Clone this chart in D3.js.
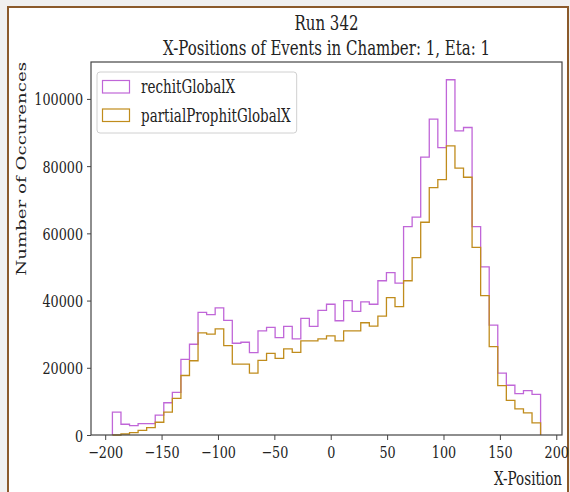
<!DOCTYPE html>
<html>
<head>
<meta charset="utf-8">
<script src="https://cdn.jsdelivr.net/npm/d3@7"></script>
<style>
  html, body { margin: 0; padding: 0; background: #f0f0f0; }
  svg { display: block; }
  text { font-family: "DejaVu Serif", serif; fill: #222; }
</style>
</head>
<body>
<svg id="chart" width="570" height="492"></svg>
<script>
// Histogram binning: 50 equal-width bins between the data extremes
const binLow = -193.6;
const binHigh = 186.1;
const binCount = 50;

// Counts per bin, left to right
const rechitGlobalX = [
  6800, 3200, 2800, 3400, 3400, 5900, 9600, 12700, 22500, 27000,
  36500, 35800, 37800, 34100, 27300, 27600, 24500, 31000, 32000, 29000,
  32300, 28600, 34700, 32300, 37100, 38900, 34000, 40000, 36800, 39600,
  38900, 45900, 48300, 45200, 62000, 64800, 82700, 94000, 85500, 105700,
  90500, 91500, 62000, 50000, 32700, 18400, 14800, 12300, 13200, 12100
];
const partialProphitGlobalX = [
  0, 300, 700, 1400, 2200, 3800, 6800, 10900, 17700, 22100,
  30400, 30000, 31600, 26600, 21100, 21100, 18400, 22200, 24300, 22800,
  25600, 24600, 28000, 28000, 28600, 29500, 28000, 31000, 31000, 33400,
  32400, 35400, 40900, 38200, 45900, 52800, 63300, 73600, 76000, 86000,
  79400, 76700, 55800, 41500, 26300, 14700, 10300, 7800, 6600, 3600
];

const seriesNames = ["rechitGlobalX", "partialProphitGlobalX"];
const seriesColors = ["#c066d8", "#c08c1c"];
const xTicks = [-200, -150, -100, -50, 0, 50, 100, 150, 200];
const yTicks = [0, 20000, 40000, 60000, 80000, 100000];
const titleLines = ["Run 342", "X-Positions of Events in Chamber: 1, Eta: 1"];
const xLabel = "X-Position";
const yLabel = "Number of Occurences";

// Horizontal compression applied to every text glyph
const SX = 0.75;

const svg = d3.select("#chart");
const m = { left: 91, right: 562, top: 62, bottom: 435 };

// Framed figure area
svg.append("rect")
  .attr("x", 8).attr("y", 7).attr("width", 560).attr("height", 520)
  .attr("fill", "#ffffff").attr("stroke", "#8b5a2b").attr("stroke-width", 2);

const edges = d3.range(binCount + 1).map(i => binLow + (binHigh - binLow) * i / binCount);
const span = binHigh - binLow;
const x = d3.scaleLinear()
  .domain([binLow - 0.05 * span, binHigh + 0.05 * span])
  .range([m.left, m.right]);
const yMax = d3.max([...rechitGlobalX, ...partialProphitGlobalX]) * 1.05;
const y = d3.scaleLinear().domain([0, yMax]).range([m.bottom, m.top]);

function stepPoints(counts) {
  const pts = [[edges[0], 0]];
  counts.forEach((c, i) => pts.push([edges[i], c]));
  pts.push([edges[binCount], 0]);
  return pts;
}
const line = d3.line().x(d => x(d[0])).y(d => y(d[1])).curve(d3.curveStepAfter);

const plot = svg.append("g");
[rechitGlobalX, partialProphitGlobalX].forEach((counts, k) => {
  plot.append("path")
    .attr("d", line(stepPoints(counts)))
    .attr("fill", "none")
    .attr("stroke", seriesColors[k])
    .attr("stroke-width", 1.3);
});

// Axes
const xAxis = svg.append("g").attr("transform", `translate(0,${m.bottom})`)
  .call(d3.axisBottom(x).tickValues(xTicks).tickSize(5).tickSizeOuter(0));
const yAxis = svg.append("g").attr("transform", `translate(${m.left},0)`)
  .call(d3.axisLeft(y).tickValues(yTicks).tickFormat(d3.format("d")).tickSize(4).tickSizeOuter(0));
[xAxis, yAxis].forEach(a => {
  a.select(".domain").remove();
  a.selectAll(".tick line").attr("stroke", "#444");
  a.selectAll(".tick text").attr("font-family", "DejaVu Serif").attr("font-size", 17).attr("fill", "#222");
});
xAxis.selectAll(".tick text").attr("y", 0).attr("dy", 0)
  .attr("transform", `translate(0,23) scale(${SX},1)`);
yAxis.selectAll(".tick text").attr("x", 0).attr("dy", 0)
  .attr("transform", `translate(-8,6) scale(${SX},1)`);

// Spines
svg.append("rect")
  .attr("x", m.left).attr("y", m.top)
  .attr("width", m.right - m.left).attr("height", m.bottom - m.top)
  .attr("fill", "none").attr("stroke", "#444").attr("stroke-width", 1.2);

function label(str, px, py, size, anchor, rotate) {
  return svg.append("text")
    .attr("transform", `translate(${px},${py}) scale(${SX},1)` + (rotate ? " rotate(-90)" : ""))
    .attr("text-anchor", anchor)
    .attr("font-size", size)
    .text(str);
}

// Title
label(titleLines[0], (m.left + m.right) / 2, 30, 20, "middle");
label(titleLines[1], (m.left + m.right) / 2, 55, 20, "middle");

// Axis labels
label(xLabel, m.right, 485, 18, "end");
label(yLabel, 26, m.top, 18.2, "end", true);

// Legend
const lg = svg.append("g");
const box = lg.append("rect")
  .attr("x", 97).attr("y", 72).attr("height", 61).attr("rx", 3)
  .attr("fill", "#ffffff").attr("fill-opacity", 0.8)
  .attr("stroke", "#d0d0d0").attr("stroke-width", 1);
let maxW = 0;
seriesNames.forEach((name, i) => {
  const cy = 87 + i * 28.5;
  lg.append("rect")
    .attr("x", 102.5).attr("y", cy - 6.5).attr("width", 27).attr("height", 12.5)
    .attr("fill", "#ffffff").attr("stroke", seriesColors[i]).attr("stroke-width", 1.2);
  const t = lg.append("text")
    .attr("transform", `translate(141,${cy + 6}) scale(${SX},1)`)
    .attr("font-size", 18)
    .text(name);
  maxW = Math.max(maxW, t.node().getComputedTextLength() * SX);
});
box.attr("width", 141 - 97 + maxW + 6);
</script>
</body>
</html>
